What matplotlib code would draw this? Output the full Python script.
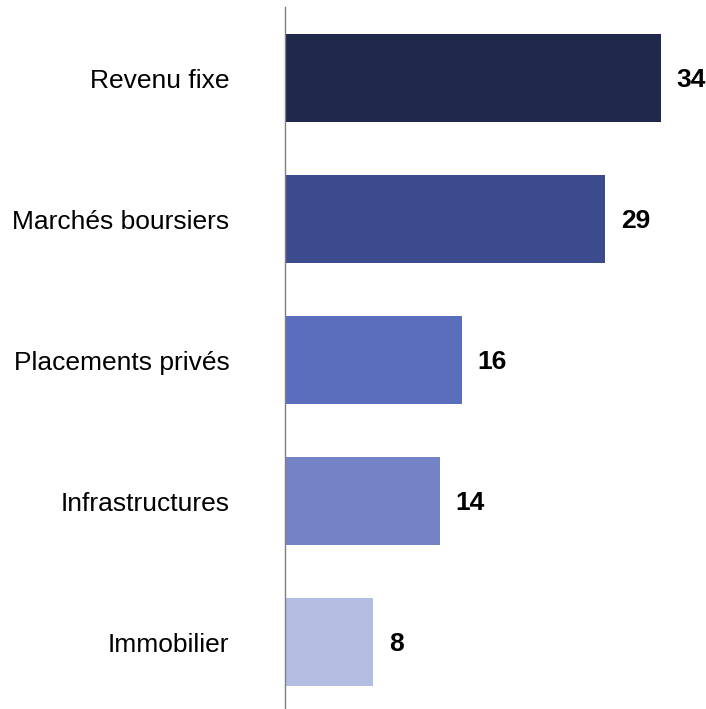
import matplotlib.pyplot as plt

categories = ['Revenu fixe', 'Marchés boursiers', 'Placements privés', 'Infrastructures', 'Immobilier']
values = [34, 29, 16, 14, 8]
colors = ['#20284c', '#3c4a8e', '#5a6ebc', '#7482c6', '#b3bce1']

plt.rcParams['font.family'] = ['Liberation Sans', 'DejaVu Sans']

fig = plt.figure(figsize=(7.06, 7.09), dpi=100)
ax = fig.add_axes([285 / 706, 0, 421 / 706, 702 / 709])

pos = list(range(len(categories)))
ax.barh(pos, values, height=0.624, color=colors)

# value labels just right of each bar
for p, v in zip(pos, values):
    ax.annotate(str(v), xy=(v, p), xytext=(11, -1.5), textcoords='offset points',
                ha='left', va='center', fontsize=19, fontweight='bold', color='black')

ax.set_xlim(0, 421 / 11.05)
ax.set_ylim(4.475, -0.504)
ax.set_yticks(pos)
ax.set_yticklabels(categories, fontsize=19)
ax.tick_params(axis='y', length=0, pad=40)
ax.set_xticks([])

for s in ['top', 'right', 'bottom']:
    ax.spines[s].set_visible(False)
ax.spines['left'].set_color('#7f7f7f')
ax.spines['left'].set_linewidth(1)

fig.savefig('out.png', dpi=100)
